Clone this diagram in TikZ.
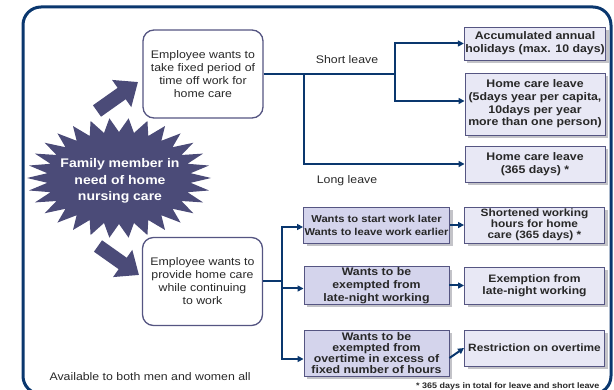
\documentclass[tikz,border=0pt]{standalone}
\usepackage{fontspec}
\setmainfont{Liberation Sans}[FakeStretch=1.12]
\usetikzlibrary{arrows.meta,shadows}
\definecolor{navy}{RGB}{10,55,110}
\definecolor{starc}{RGB}{75,75,120}
\definecolor{bord}{RGB}{85,85,130}
\definecolor{lfill}{RGB}{232,232,245}
\definecolor{mfill}{RGB}{212,212,236}
\definecolor{shad}{RGB}{195,195,200}
\definecolor{txt}{RGB}{40,40,40}
\begin{document}
\begin{tikzpicture}[x=1pt,y=-1pt,
  rbox/.style={draw=bord, line width=0.9pt, fill=lfill, minimum width=140pt, align=center, inner sep=1pt,
    font=\bfseries\fontsize{11}{12.7}\selectfont, text=txt,
    drop shadow={shadow xshift=3pt, shadow yshift=-3pt, fill=shad, opacity=1}},
  mbox/.style={rbox, fill=mfill, minimum width=145pt},
  ebox/.style={draw=bord, line width=1.3pt, fill=white, rounded corners=11pt, minimum width=120pt,
    minimum height=88pt, align=center, font=\fontsize{11}{13}\selectfont, text=txt},
  conn/.style={draw=navy, line width=2pt},
  carrow/.style={conn, -{Triangle[length=6pt,width=6pt]}},
  bigarrow/.style={draw=starc, line width=14pt, -{Triangle[length=20pt,width=32pt]}},
  lbl/.style={font=\fontsize{11}{13}\selectfont, text=txt}
]
\useasboundingbox (0,0) rectangle (614,390);
% frame
\draw[navy, line width=3pt, rounded corners=18pt] (23,7) rectangle (611,394);

% starburst
\fill[starc] ({119+92},178) \foreach \i in {1,...,59} {
  -- ({119+(82+10*cos(180*\i))*cos(6*\i)}, {178+(53+7*cos(180*\i))*sin(6*\i)}) } -- cycle;
\node[font=\bfseries\fontsize{12.5}{16.5}\selectfont, text=white, align=center] (fam) at (120,181)
  {Family member in\\need of home\\nursing care};

% big arrows
\coordinate (u1) at (97,111);
\coordinate (u2) at (138,82);
\coordinate (d1) at (98,246);
\coordinate (d2) at (139,275);
\draw[bigarrow] (u1) -- (u2);
\draw[bigarrow] (d1) -- (d2);

% employee boxes
\node[ebox] (A) at (203,74) {Employee wants to\\take fixed period of\\time off work for\\home care};
\node[ebox] (B) at (202.5,281.5) {Employee wants to\\provide home care\\while continuing\\to work};

% right boxes (top)
\node[rbox, minimum height=33pt] (R1) at (535,43.5) {Accumulated annual\\holidays (max. 10 days)};
\node[rbox, minimum height=62pt] (R2) at (535,104) {Home care leave\\(5days year per capita,\\10days per year\\more than one person)};
\node[rbox, minimum height=36pt] (R3) at (535,164) {Home care leave\\(365 days) *};

% middle boxes
\node[mbox, minimum height=36pt, font=\bfseries\fontsize{10}{13}\selectfont] (M1) at (376.5,225) {Wants to start work later\\Wants to leave work earlier};
\node[mbox, minimum height=37pt] (M2) at (376.5,285.5) {Wants to be\\exempted from\\late-night working};
\node[mbox, minimum height=46pt, font=\bfseries\fontsize{11}{11.2}\selectfont] (M3) at (376.5,353) {Wants to be\\exempted from\\overtime in excess of\\fixed number of hours};

% right boxes (bottom)
\node[rbox, minimum height=36pt, font=\bfseries\fontsize{10.6}{11.2}\selectfont] (N1) at (534.5,225) {Shortened working\\hours for home\\care (365 days) *};
\node[rbox, minimum height=37pt, font=\bfseries\fontsize{10.8}{12.5}\selectfont] (N2) at (534.5,285.5) {Exemption from\\late-night working};
\node[rbox, minimum height=36pt, font=\bfseries\fontsize{10.6}{12.5}\selectfont] (N3) at (534.5,348) {Restriction on overtime};

% connectors top
\coordinate (t1) at (304,74);
\coordinate (t2) at (395,74);
\draw[conn] (A.east) -- (t2);
\draw[carrow] (t2) |- (R1.west);
\draw[carrow] (t2) |- ([yshift=3pt]R2.west);
\draw[carrow] (t1) |- (R3.west);

% connectors bottom
\coordinate (t3) at (282,281.5);
\draw[conn] (B.east) -- (t3);
\draw[carrow] (t3) |- ([yshift=-2pt]M1.west);
\draw[carrow] (t3) |- ([yshift=-3pt]M2.west);
\draw[carrow] (t3) |- ([yshift=-6pt]M3.west);
\draw[carrow] (M1.east) -- (N1.west);
\draw[carrow] (M2.east) -- (N2.west);
\draw[carrow] ([yshift=-5pt]M3.east) -- (N3.west);

% labels
\node[lbl] (sl) at (347,60) {Short leave};
\node[lbl] (ll) at (347,181) {Long leave};
\node[lbl, anchor=west] (av) at (46,377) {Available to both men and women all};
\node[font=\bfseries\fontsize{8}{9}\selectfont, text=txt, anchor=east] (fn) at (603,386) {* 365 days in total for leave and short leave};
\end{tikzpicture}
\end{document}
